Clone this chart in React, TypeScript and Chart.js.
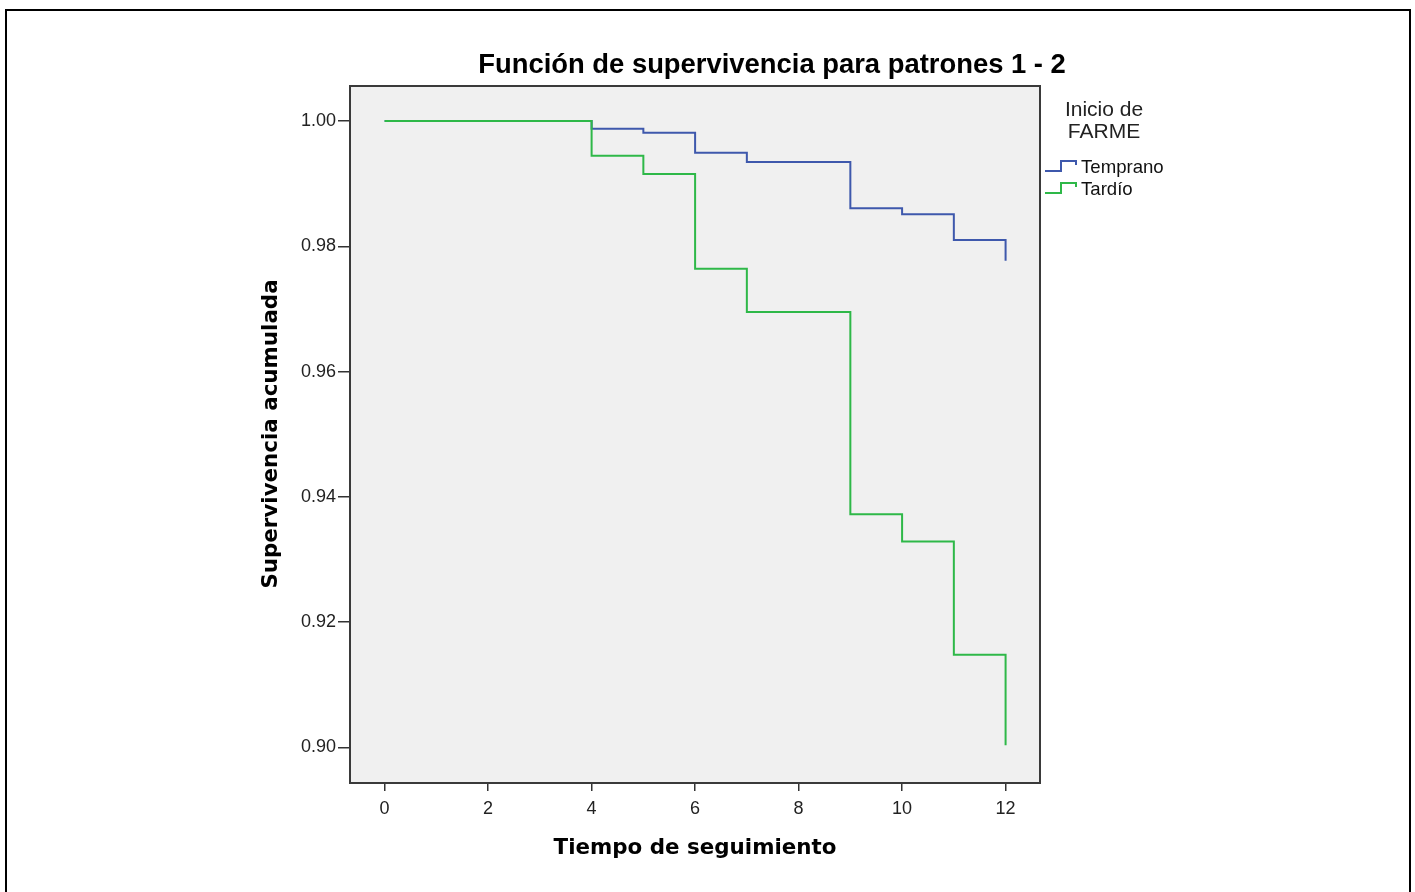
import React, { useEffect, useRef } from 'react';
import { Chart, registerables } from 'chart.js';

Chart.register(...registerables);

// ---- data ----
const times = [0, 4, 5, 6, 7, 9, 10, 11, 12];
const temprano = [1.0, 0.99877, 0.99813, 0.99494, 0.99346, 0.98607, 0.98511, 0.98101, 0.9777];
const tardio = [1.0, 0.99446, 0.99154, 0.97643, 0.96952, 0.93723, 0.93286, 0.91482, 0.90036];
const xTicks = [0, 2, 4, 6, 8, 10, 12];
const yTicks = [0.9, 0.92, 0.94, 0.96, 0.98, 1.0];
const seriesNames = ['Temprano', 'Tardío'];
const seriesColors = ['#3E58AC', '#2EB848'];
const legendTitle = ['Inicio de', 'FARME'];
const chartTitle = 'Función de supervivencia para patrones 1 - 2';
const xTitle = 'Tiempo de seguimiento';
const yTitle = 'Supervivencia acumulada';

const W = 1415;
const H = 892;

const decor = {
  id: 'decor',
  beforeDraw(chart: any) {
    const ctx = chart.ctx;
    const a = chart.chartArea;
    ctx.save();
    ctx.fillStyle = '#ffffff';
    ctx.fillRect(0, 0, chart.width, chart.height);
    ctx.fillStyle = '#f0f0f0';
    ctx.fillRect(a.left, a.top, a.right - a.left, a.bottom - a.top);
    // outer frame
    ctx.strokeStyle = '#000000';
    ctx.lineWidth = 2;
    ctx.beginPath();
    ctx.moveTo(6, H + 10);
    ctx.lineTo(6, 10);
    ctx.lineTo(1410, 10);
    ctx.lineTo(1410, H + 10);
    ctx.stroke();
    ctx.restore();
  },
  afterDraw(chart: any) {
    const ctx = chart.ctx;
    const a = chart.chartArea;
    ctx.save();
    // plot border
    ctx.strokeStyle = '#3a3a3a';
    ctx.lineWidth = 2;
    ctx.strokeRect(a.left, a.top, a.right - a.left, a.bottom - a.top);

    // title
    ctx.fillStyle = '#000000';
    ctx.textAlign = 'center';
    ctx.textBaseline = 'middle';
    ctx.font = 'bold 27.4px "Liberation Sans", Arial, sans-serif';
    ctx.fillText(chartTitle, 772, 65);

    // axis titles
    ctx.font = 'bold 21.4px "DejaVu Sans", Verdana, sans-serif';
    ctx.fillText(xTitle, 695, 848);
    ctx.save();
    ctx.translate(271, 434);
    ctx.rotate(-Math.PI / 2);
    ctx.fillText(yTitle, 0, 0);
    ctx.restore();

    // legend
    ctx.font = '21px "Liberation Sans", Arial, sans-serif';
    ctx.fillStyle = '#222222';
    ctx.fillText(legendTitle[0], 1104, 110);
    ctx.fillText(legendTitle[1], 1104, 132);
    ctx.font = '18.6px "Liberation Sans", Arial, sans-serif';
    ctx.textAlign = 'left';
    const ys = [168, 190];
    seriesNames.forEach((name, i) => {
      const y = ys[i];
      ctx.strokeStyle = seriesColors[i];
      ctx.lineWidth = 2;
      ctx.beginPath();
      ctx.moveTo(1045, y + 3);
      ctx.lineTo(1061, y + 3);
      ctx.lineTo(1061, y - 7);
      ctx.lineTo(1076, y - 7);
      ctx.lineTo(1076, y - 3);
      ctx.stroke();
      ctx.fillStyle = '#111111';
      ctx.fillText(name, 1081, y);
    });
    ctx.restore();
  },
};

export default function App() {
  const ref = useRef<HTMLCanvasElement | null>(null);
  useEffect(() => {
    document.body.style.margin = '0';
    const canvas = ref.current;
    if (!canvas) return;
    const tickFont = { family: '"Liberation Sans", Arial, sans-serif', size: 18 };
    const chart = new Chart(canvas, {
      type: 'line',
      data: {
        datasets: [
          {
            label: seriesNames[1],
            data: times.map((t, i) => ({ x: t, y: tardio[i] })),
            borderColor: seriesColors[1],
            borderWidth: 2,
            pointRadius: 0,
            stepped: 'before',
            fill: false,
          },
          {
            label: seriesNames[0],
            data: times.map((t, i) => ({ x: t, y: temprano[i] })),
            borderColor: seriesColors[0],
            borderWidth: 2,
            pointRadius: 0,
            stepped: 'before',
            fill: false,
          },
        ],
      },
      options: {
        animation: false,
        responsive: false,
        devicePixelRatio: 1,
        layout: { padding: { left: 250, right: 375, top: 86, bottom: 69 } },
        plugins: {
          legend: { display: false },
          title: { display: false },
          tooltip: { enabled: false },
        },
        scales: {
          x: {
            type: 'linear',
            min: -0.669,
            max: 12.665,
            afterFit: (s: any) => {
              s.height = 40;
            },
            afterBuildTicks: (s: any) => {
              s.ticks = xTicks.map((v) => ({ value: v }));
            },
            border: { display: false },
            grid: {
              display: true,
              drawOnChartArea: false,
              drawTicks: true,
              tickLength: 8,
              color: '#333333',
              lineWidth: 1.5,
            },
            ticks: {
              font: tickFont,
              color: '#222222',
              padding: 7,
              maxRotation: 0,
              callback: (v: any) => String(v),
            },
          },
          y: {
            type: 'linear',
            min: 0.89433,
            max: 1.00559,
            afterFit: (s: any) => {
              s.width = 100;
            },
            afterBuildTicks: (s: any) => {
              s.ticks = yTicks.map((v) => ({ value: v }));
            },
            border: { display: false },
            grid: {
              display: true,
              drawOnChartArea: false,
              drawTicks: true,
              tickLength: 12,
              color: '#333333',
              lineWidth: 1.5,
            },
            ticks: {
              font: tickFont,
              color: '#222222',
              padding: 2,
              callback: (v: any) => Number(v).toFixed(2),
            },
          },
        },
      },
      plugins: [decor],
    } as any);
    return () => chart.destroy();
  }, []);
  return (
    <div style={{ width: W, height: H, overflow: 'hidden' }}>
      <canvas ref={ref} width={W} height={H} style={{ display: 'block', width: W, height: H }} />
    </div>
  );
}
